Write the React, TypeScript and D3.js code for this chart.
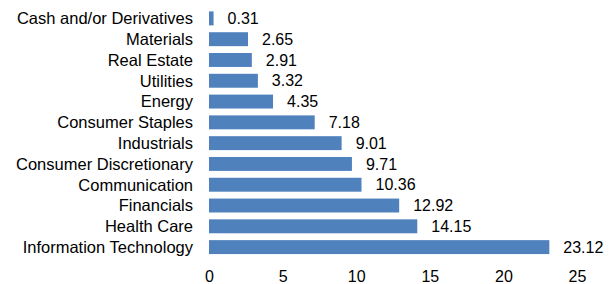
import React, { useEffect, useRef } from 'react';
import * as d3 from 'd3';

const categories = [
  'Cash and/or Derivatives',
  'Materials',
  'Real Estate',
  'Utilities',
  'Energy',
  'Consumer Staples',
  'Industrials',
  'Consumer Discretionary',
  'Communication',
  'Financials',
  'Health Care',
  'Information Technology',
];
const values = [0.31, 2.65, 2.91, 3.32, 4.35, 7.18, 9.01, 9.71, 10.36, 12.92, 14.15, 23.12];
const xTicks = [0, 5, 10, 15, 20, 25];

const App = () => {
  const svgRef = useRef(null);

  useEffect(() => {
    const width = 614;
    const height = 284;
    const svg = d3.select(svgRef.current).attr('width', width).attr('height', height);
    svg.selectAll('*').remove();

    const font = '"Liberation Sans", Arial, sans-serif';
    const x = d3.scaleLinear().domain([0, 25]).range([209, 577]);
    const y = d3.scaleBand().domain(categories).range([8, 257.5]).paddingInner(0.33).paddingOuter(0.165);

    const rows = categories.map((c, i) => ({ c, v: values[i] }));

    // bars
    svg
      .selectAll('.bar')
      .data(rows)
      .enter()
      .append('rect')
      .attr('x', x(0))
      .attr('y', (d) => y(d.c))
      .attr('width', (d) => x(d.v) - x(0))
      .attr('height', y.bandwidth())
      .attr('fill', '#4F81BD');

    // value labels
    svg
      .selectAll('.val')
      .data(rows)
      .enter()
      .append('text')
      .attr('x', (d) => x(d.v) + 14)
      .attr('y', (d) => y(d.c) + y.bandwidth() / 2)
      .attr('dy', '0.35em')
      .style('font-family', font)
      .style('font-size', '16px')
      .style('fill', '#000')
      .text((d) => d.v.toFixed(2));

    // category labels
    svg
      .selectAll('.cat')
      .data(rows)
      .enter()
      .append('text')
      .attr('x', 193)
      .attr('y', (d) => y(d.c) + y.bandwidth() / 2)
      .attr('dy', '0.35em')
      .attr('text-anchor', 'end')
      .style('font-family', font)
      .style('font-size', '16.5px')
      .style('fill', '#000')
      .text((d) => d.c);

    // x axis labels
    const axis = svg
      .append('g')
      .attr('transform', 'translate(0, 271)')
      .call(d3.axisBottom(x).tickValues(xTicks).tickSize(0).tickPadding(0));
    axis.select('.domain').remove();
    axis
      .selectAll('text')
      .attr('dy', '0.71em')
      .style('font-family', font)
      .style('font-size', '16px')
      .style('fill', '#000');
  }, []);

  return (
    <div style={{ position: 'absolute', left: 0, top: 0 }}>
      <svg ref={svgRef}></svg>
    </div>
  );
};

export default App;
